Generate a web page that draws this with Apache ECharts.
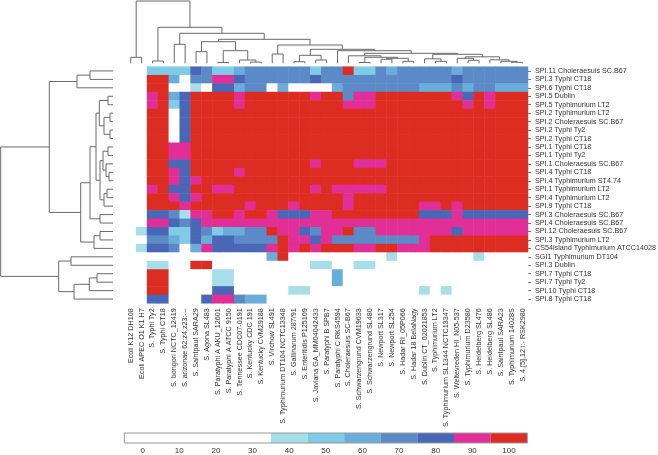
<!DOCTYPE html>
<html>
<head>
<meta charset="utf-8">
<script src="https://cdn.jsdelivr.net/npm/echarts@6.0.0/dist/echarts.min.js"></script>
<style>
  html, body { margin: 0; padding: 0; background: #fff; }
  #chart { width: 658px; height: 455px; }
</style>
</head>
<body>
<div id="chart"></div>
<script>
// column strains (x) and genomic islands (y)
var colLabels = ['Ecoli K12 DH108', 'Ecoli APEC O1 K1 H7', 'S. Typhi Ty2', 'S. Typhi CT18', 'S. bongori NCTC_12419',
  'S. arizonae 62:z4,z23:---', 'S. Saintpaul SARA29', 'S. Agona SL483', 'S. Paratyphi A AKU_12601', 'S. Paratyphi A ATCC 9150',
  'S. Tennessee CDC07-0191', 'S. Kentucky CDC 191', 'S. Kentucky CVM29188', 'S. Virchow SL491', 'S. Typhimurium DT104 NCTC13348',
  'S. Gallinarum 287/91', 'S. Enteritidis P125109', 'S. Javiana GA_MM04042433', 'S. Paratyphi B SPB7', 'S. Paratyphi C RKS4594',
  'S. Choleraesuis SC-B67', 'S. Schwarzengrund CVM19633', 'S. Schwarzengrund SL480', 'S. Newport SL317', 'S. Newport SL254',
  'S. Hadar RI_05P066', 'S. Hadar 18 BelaNagy', 'S. Dublin CT_02021853', 'S. Typhimurium LT2', 'S. Typhimurium SL1344 NCTC13347',
  'S. Weltevreden HI_N05-537', 'S. Typhimurium D23580', 'S. Heidelberg SL476', 'S. Heidelberg SL486', 'S. Saintpaul SARA23',
  'S. Typhimurium 14028S', 'S. 4,[5],12:i:- RSK2980'];

var rowLabels = ['SPI.11 Choleraesuis SC.B67', 'SPI.3 Typhi CT18', 'SPI.6 Typhi CT18', 'SPI.5 Dublin', 'SPI.5 Typhimurium LT2',
  'SPI.2 Typhimurium LT2', 'SPI.2 Choleraesuis SC.B67', 'SPI.2 Typhi Ty2', 'SPI.2 Typhi CT18', 'SPI.1 Typhi CT18',
  'SPI.1 Typhi Ty2', 'SPI.1 Choleraesuis SC.B67', 'SPI.4 Typhi CT18', 'SPI.4 Typhimurium ST4.74', 'SPI.1 Typhimurium LT2',
  'SPI.4 Typhimurium LT2', 'SPI.9 Typhi CT18', 'SPI.3 Choleraesuis SC.B67', 'SPI.4 Choleraesuis SC.B67', 'SPI.12 Choleraesuis SC.B67',
  'SPI.3 Typhimurium LT2', 'CS54island Typhimurium ATCC14028', 'SGI1 Typhimurium DT104', 'SPI.3 Dublin', 'SPI.7 Typhi CT18',
  'SPI.7 Typhi Ty2', 'SPI.10 Typhi CT18', 'SPI.8 Typhi CT18'];

// % identity, one array per island (row), in column order
var values = [
  [0,0,50,50,50,50,80,70,50,50,60,70,70,70,70,70,70,50,70,70,100,50,50,70,60,70,70,70,70,70,60,70,70,70,70,70,70],
  [0,0,100,100,60,0,70,70,90,90,80,70,70,70,70,70,70,80,70,70,70,70,70,70,70,70,70,70,70,70,80,70,70,70,70,70,70],
  [0,0,100,100,0,0,40,0,80,80,60,70,70,0,60,0,0,0,0,60,70,70,70,70,70,70,70,60,60,60,70,60,70,70,60,60,60],
  [0,0,90,100,60,80,100,100,100,100,90,100,100,100,100,100,100,90,100,100,70,90,90,100,100,100,100,100,100,100,90,80,100,90,100,100,100],
  [0,0,90,100,50,80,100,100,100,100,90,100,100,100,100,100,100,100,100,100,90,90,90,100,100,100,100,100,100,100,100,90,100,90,100,100,100],
  [0,0,100,100,0,80,100,100,100,100,100,100,100,100,100,100,100,100,100,100,100,100,100,100,100,100,100,100,100,100,100,100,100,100,100,100,100],
  [0,0,100,100,0,80,100,100,100,100,100,100,100,100,100,100,100,100,100,100,100,100,100,100,100,100,100,100,100,100,100,100,100,100,100,100,100],
  [0,0,100,100,0,80,100,100,100,100,100,100,100,100,100,100,100,100,100,100,100,100,100,100,100,100,100,100,100,100,100,100,100,100,100,100,100],
  [0,0,100,100,0,80,100,100,100,100,100,100,100,100,100,100,100,100,100,100,100,100,100,100,100,100,100,100,100,100,100,100,100,100,100,100,100],
  [0,0,100,100,90,90,100,100,100,100,100,100,100,100,100,100,100,100,100,100,100,100,100,100,100,100,100,100,100,100,100,100,100,100,100,100,100],
  [0,0,100,100,90,90,100,100,100,100,100,100,100,100,100,100,100,100,100,100,100,100,100,100,100,100,100,100,100,100,100,100,100,100,100,100,100],
  [0,0,100,100,80,80,100,100,100,100,100,100,100,100,100,100,100,90,100,100,100,90,90,90,100,100,100,100,100,100,100,100,100,100,100,100,100],
  [0,0,100,100,90,80,100,100,100,100,90,100,100,100,100,100,100,100,100,100,100,100,100,100,100,100,100,100,100,100,100,100,100,100,100,100,100],
  [0,0,100,100,90,80,90,100,100,100,100,100,100,100,100,100,100,100,100,100,100,100,100,100,100,100,100,100,100,100,100,100,100,100,100,100,100],
  [0,0,90,100,80,80,100,100,90,90,100,100,100,100,100,100,100,90,100,90,90,90,90,90,100,100,100,100,100,100,100,100,100,100,100,100,100],
  [0,0,100,100,90,80,90,100,100,100,100,100,100,100,100,100,100,100,100,100,90,100,100,100,100,100,100,100,100,100,100,100,100,100,100,100,100],
  [0,0,100,100,100,90,100,100,100,100,100,90,100,100,100,90,100,100,100,100,90,100,100,100,100,100,100,90,90,100,90,100,100,100,100,100,100],
  [0,0,80,80,70,40,90,90,100,100,90,100,100,90,80,80,80,90,90,100,100,100,100,100,100,100,100,80,80,80,90,80,80,80,80,80,80],
  [0,0,90,90,80,70,80,90,90,90,90,90,90,90,90,90,90,90,90,90,90,90,90,90,90,90,90,90,90,90,90,90,90,90,90,90,90],
  [0,40,80,80,50,50,80,70,50,60,60,70,70,100,90,90,80,70,90,90,100,70,70,90,90,90,90,90,90,90,80,90,90,90,90,90,90],
  [0,0,70,70,60,50,80,60,80,80,70,70,70,70,100,90,90,80,90,70,70,70,70,70,70,70,70,90,100,100,100,100,100,100,100,100,100],
  [0,40,80,80,70,0,60,90,80,80,80,80,80,90,100,90,100,90,100,100,100,90,90,100,100,90,90,90,100,100,100,100,100,100,100,100,100],
  [0,0,0,0,0,0,0,0,0,0,0,0,0,60,100,0,0,0,0,0,0,0,0,0,40,0,0,0,0,0,0,0,40,0,0,0,0],
  [0,0,40,40,0,0,100,100,0,0,0,0,0,0,0,0,0,40,40,0,0,40,40,0,0,0,0,0,0,0,0,0,0,0,0,0,0],
  [0,0,100,100,0,0,0,0,40,40,0,0,0,0,0,0,0,0,0,60,0,0,0,0,0,0,0,0,0,0,0,0,0,0,0,0,0],
  [0,0,100,100,0,0,0,0,40,40,0,0,0,0,0,0,0,0,0,60,0,0,0,0,0,0,0,0,0,0,0,0,0,0,0,0,0],
  [0,0,100,100,0,0,0,0,80,80,0,0,0,0,0,40,40,0,0,0,0,0,0,0,0,0,0,40,0,40,0,0,0,0,0,0,0],
  [0,0,80,80,0,0,0,80,90,90,70,60,60,0,0,0,0,0,0,0,0,0,0,0,0,0,0,0,0,0,0,0,0,0,0,0,0]
];

// hierarchical clustering: [childA, childB, height]; index >= n means an earlier merge
var rowMerges = [
  [0,1,23],[28,2,36],[3,4,5],[5,6,3],[7,8,3],[31,32,9],[30,33,13.7],[9,10,5],[12,13,4],
  [11,36,7],[35,37,10],[14,15,6],[39,16,9],[38,40,13],[34,41,17],[17,18,13],[42,43,23],
  [19,20,13],[45,21,19],[44,46,32.3],[29,47,63.7],[22,23,42],[24,25,16],[50,26,23.7],
  [51,27,39],[49,52,54.3],[48,53,112.3]
];
var colMerges = [
  [0,1,6],[2,3,2.3],[4,5,19],[6,7,11.6],[8,9,0.8],[11,12,1.2],[10,42,3.3],[41,43,12.6],
  [40,44,21.6],[13,14,9.3],[15,16,1.6],[17,18,3.3],[47,48,8],[21,22,0.8],[23,24,4],
  [25,26,2],[51,52,5],[50,53,6],[20,54,7.5],[28,29,2],[27,56,4.5],[31,32,3],[30,58,5],
  [35,36,1],[34,60,2],[33,61,3.5],[59,62,6.5],[57,63,9],[55,64,10],[19,65,12.6],
  [49,66,14],[46,67,18.3],[45,68,24],[39,69,30],[38,70,36],[37,71,62.3]
];

// colour key
var barBreaks = [-5, 35, 45, 55, 65, 75, 85, 95, 105];
var barColors = ['#ffffff', '#a6dfea', '#80cbe6', '#69aedb', '#5b8ac6', '#4a66b7', '#e22e97', '#dd2c21'];
var barTicks = [0, 10, 20, 30, 40, 50, 60, 70, 80, 90, 100];

var FONT = 'Liberation Sans';

function buildLinks(merges, n) {
  var pos = [], hgt = [], links = [];
  for (var i = 0; i < n; i++) { pos[i] = i + 0.5; hgt[i] = 0; }
  merges.forEach(function (m, k) {
    var a = m[0], b = m[1];
    links.push([pos[a], pos[b], m[2], hgt[a], hgt[b]]);
    pos[n + k] = (pos[a] + pos[b]) / 2;
    hgt[n + k] = m[2];
  });
  return links;
}

var heatData = [];
values.forEach(function (row, r) {
  row.forEach(function (v, c) { heatData.push([c, r, v]); });
});

var pieces = [];
for (var i = 0; i < barColors.length; i++) {
  pieces.push({ min: barBreaks[i], max: barBreaks[i + 1], color: barColors[i] });
}
var barData = [];
for (var j = 0; j < barColors.length; j++) barData.push([barBreaks[j], barBreaks[j + 1]]);

var lineStyle = { stroke: '#6a6a6a', lineWidth: 1, fill: null };

var myChart = echarts.init(document.getElementById('chart'), null, { renderer: 'canvas' });
var option = {
  backgroundColor: '#fff',
  animation: false,
  grid: [
    { left: 125.3, top: 66.7, width: 402.7, height: 236.6, outerBoundsMode: 'none' },   // heatmap
    { left: 0.7, top: 66.7, width: 112.3, height: 236.6, outerBoundsMode: 'none' },     // row tree
    { left: 125.3, top: 1, width: 402.7, height: 62.3, outerBoundsMode: 'none' },       // column tree
    { left: 124.3, top: 433, width: 403, height: 10, outerBoundsMode: 'none' }          // colour key
  ],
  xAxis: [
    {
      type: 'category', gridIndex: 0, data: colLabels, position: 'bottom',
      axisLine: { show: false }, axisTick: { show: false }, splitLine: { show: false },
      axisLabel: { interval: 0, rotate: 90, margin: 5, fontSize: 7.2, color: '#333', fontFamily: FONT }
    },
    { type: 'value', gridIndex: 1, min: 0, max: 112.3, inverse: true, show: false },
    { type: 'value', gridIndex: 2, min: 0, max: 37, show: false },
    {
      type: 'value', gridIndex: 3, min: -5, max: 105,
      axisLine: { show: false }, axisTick: { show: false }, splitLine: { show: false },
      axisLabel: { customValues: barTicks, margin: 4, fontSize: 8, color: '#333', fontFamily: FONT }
    }
  ],
  yAxis: [
    {
      type: 'category', gridIndex: 0, data: rowLabels, inverse: true, position: 'right',
      axisLine: { show: false }, splitLine: { show: false },
      axisTick: { show: true, alignWithLabel: true, length: 3, lineStyle: { color: '#777' } },
      axisLabel: { interval: 0, margin: 7, fontSize: 7.2, color: '#333', fontFamily: FONT }
    },
    { type: 'value', gridIndex: 1, min: 0, max: 28, inverse: true, show: false },
    { type: 'value', gridIndex: 2, min: 0, max: 62.3, show: false },
    { type: 'value', gridIndex: 3, min: 0, max: 1, show: false }
  ],
  visualMap: {
    type: 'piecewise', show: false, seriesIndex: 0, dimension: 2, pieces: pieces
  },
  series: [
    {
      type: 'heatmap', xAxisIndex: 0, yAxisIndex: 0, data: heatData,
      itemStyle: { borderWidth: 0 }, emphasis: { disabled: true }
    },
    {
      type: 'custom', xAxisIndex: 1, yAxisIndex: 1, clip: false,
      data: buildLinks(rowMerges, rowLabels.length),
      renderItem: function (params, api) {
        var a = api.value(0), b = api.value(1), h = api.value(2);
        var pts = [api.coord([api.value(3), a]), api.coord([h, a]), api.coord([h, b]), api.coord([api.value(4), b])];
        return { type: 'polyline', shape: { points: pts }, style: lineStyle };
      }
    },
    {
      type: 'custom', xAxisIndex: 2, yAxisIndex: 2, clip: false,
      data: buildLinks(colMerges, colLabels.length),
      renderItem: function (params, api) {
        var a = api.value(0), b = api.value(1), h = api.value(2);
        var pts = [api.coord([a, api.value(3)]), api.coord([a, h]), api.coord([b, h]), api.coord([b, api.value(4)])];
        return { type: 'polyline', shape: { points: pts }, style: lineStyle };
      }
    },
    {
      type: 'custom', xAxisIndex: 3, yAxisIndex: 3, data: barData,
      renderItem: function (params, api) {
        var p0 = api.coord([api.value(0), 1]), p1 = api.coord([api.value(1), 0]);
        return {
          type: 'rect',
          shape: { x: p0[0], y: p0[1], width: p1[0] - p0[0], height: p1[1] - p0[1] },
          style: { fill: barColors[params.dataIndex] }
        };
      }
    },
    {
      type: 'custom', xAxisIndex: 3, yAxisIndex: 3, clip: false, data: [[barBreaks[0], barBreaks[barBreaks.length - 1]]],
      renderItem: function (params, api) {
        var p0 = api.coord([api.value(0), 1]), p1 = api.coord([api.value(1), 0]);
        return {
          type: 'rect',
          shape: { x: p0[0], y: p0[1], width: p1[0] - p0[0], height: p1[1] - p0[1] },
          style: { fill: null, stroke: '#999', lineWidth: 1 }
        };
      }
    }
  ]
};
myChart.setOption(option);
window.onresize = myChart.resize;
</script>
</body>
</html>
